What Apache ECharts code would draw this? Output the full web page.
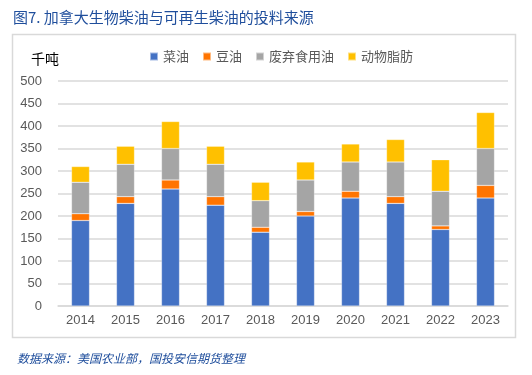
<!DOCTYPE html>
<html><head><meta charset="utf-8">
<script src="https://cdn.jsdelivr.net/npm/echarts@6/dist/echarts.min.js"></script>
<style>html,body{margin:0;padding:0;background:#fff}#c{width:532px;height:375px}</style>
</head><body><div id="c"></div>
<script>
const years = ['2014','2015','2016','2017','2018','2019','2020','2021','2022','2023'];
const rapeseed = [190,228,260,224,164,200,240,228,170,240];
const soy = [15,15,20,19,11,10,15,15,8,28];
const waste = [70,72,70,72,59,70,65,77,77,82];
const animal = [35,40,60,40,41,40,40,50,70,80];
const seriesNames = ['菜油','豆油','废弃食用油','动物脂肪'];
const colors = ['#4472C4','#FF7400','#A5A5A5','#FFC000'];
const datasets = [rapeseed, soy, waste, animal];
const font = '"Noto Sans CJK SC", "Noto Sans", sans-serif';
const chart = echarts.init(document.getElementById('c'));
chart.setOption({
  animation:false,
  textStyle:{fontFamily:font},
  title:[{text:'图7. 加拿大生物柴油与可再生柴油的投料来源', left:8, top:5,
    textStyle:{color:'#1F4E9C', fontSize:15, fontWeight:'normal', fontFamily:font}},
    {text:'数据来源：美国农业部，国投安信期货整理', left:12, top:347,
    textStyle:{color:'#1F4E9C', fontSize:12, fontStyle:'italic', fontWeight:'normal', fontFamily:font}},
    {text:'千吨', left:26, top:47, textStyle:{color:'#000', fontSize:14, fontWeight:'normal', fontFamily:font}}],
  graphic:[{type:'rect', shape:{x:12.5,y:34.5,width:503,height:303}, style:{fill:'none', stroke:'#D9D9D9', lineWidth:1.5}, silent:true}],
  legend:{data:seriesNames, left:144, top:45, itemWidth:8, itemHeight:8, itemGap:13,
    icon:'rect', textStyle:{color:'#595959', fontSize:13, fontFamily:font}},
  grid:{left:58, right:24, top:81, bottom:69, containLabel:false},
  xAxis:{type:'category', data:years,
    axisLine:{lineStyle:{color:'#D9D9D9', width:1.5}}, axisTick:{show:false},
    axisLabel:{color:'#595959', fontSize:13, margin:8, fontFamily:'"Liberation Sans", Arial, sans-serif'}},
  yAxis:{type:'value', min:0, max:500, interval:50,
    axisLine:{show:false}, axisTick:{show:false},
    splitLine:{lineStyle:{color:'#D9D9D9', width:1.5}},
    axisLabel:{color:'#595959', fontSize:13, margin:16, fontFamily:'"Liberation Sans", Arial, sans-serif'}},
  series: seriesNames.map((n,i)=>({name:n, type:'bar', stack:'total', data:datasets[i],
    barWidth:18, itemStyle:{color:colors[i], borderColor:'rgba(255,255,255,0.5)', borderWidth:0.5}}))
});
</script></body></html>
